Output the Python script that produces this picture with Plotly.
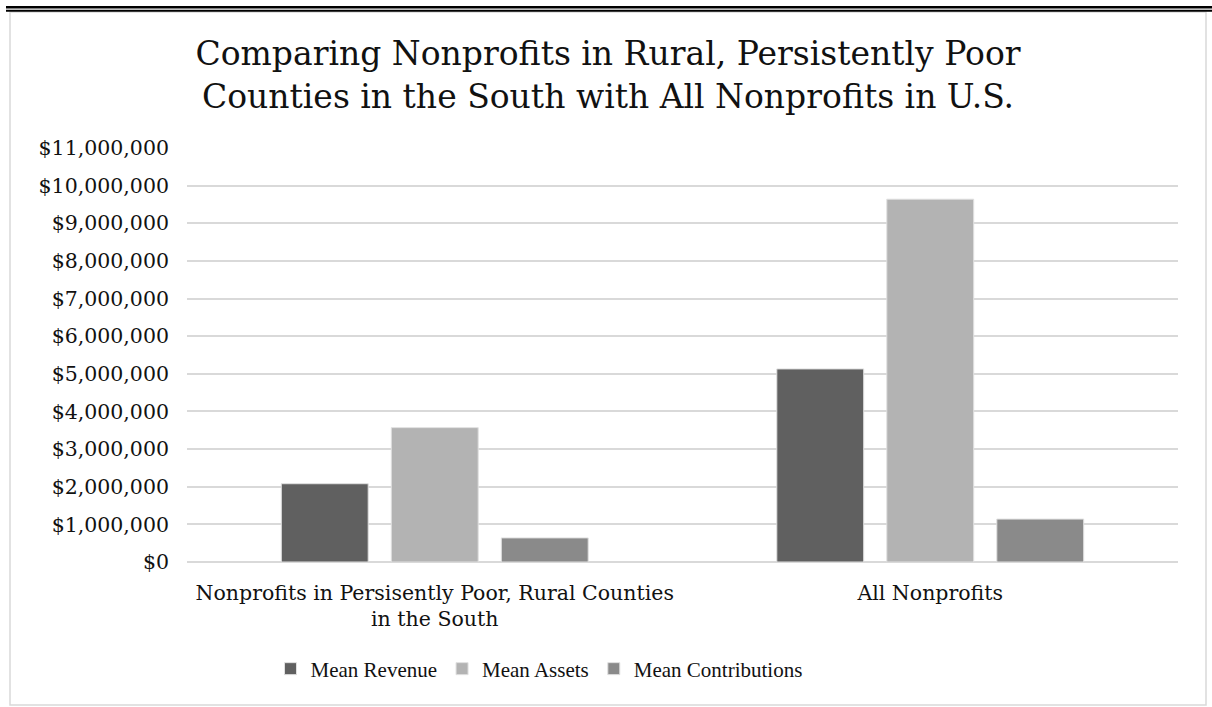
import plotly.graph_objects as go

categories = ["Nonprofits in Persisently Poor, Rural Counties<br>in the South", "All Nonprofits"]
mean_revenue = [2080000, 5130000]
mean_assets = [3570000, 9640000]
mean_contributions = [640000, 1140000]
tick_values = [0, 1000000, 2000000, 3000000, 4000000, 5000000, 6000000, 7000000, 8000000, 9000000, 10000000, 11000000]
tick_labels = ["$" + f"{v:,}" for v in tick_values]

W, H = 1212, 707
L, R, T, B = 187, 1178, 148, 562
FONT = "DejaVu Serif"
LEGFONT = "Liberation Serif"

def px(X):
    return (X - L) / (R - L)

def py(Y):
    return (B - Y) / (B - T)

fig = go.Figure()
series = [("Mean Revenue", mean_revenue, "#606060"),
          ("Mean Assets", mean_assets, "#b3b3b3"),
          ("Mean Contributions", mean_contributions, "#8a8a8a")]
for name, vals, col in series:
    fig.add_trace(go.Bar(x=categories, y=vals, name=name,
                         marker=dict(color=col, line=dict(color="#e0e0e0", width=1))))

fig.update_layout(
    width=W, height=H,
    margin=dict(l=L, r=W - R, t=T, b=H - B, autoexpand=False),
    paper_bgcolor="white", plot_bgcolor="white",
    font=dict(family=FONT, size=20, color="#111111"),
    barmode="group", bargap=0.334, bargroupgap=0.21,
    title=dict(text="Comparing Nonprofits in Rural, Persistently Poor<br>Counties in the South with All Nonprofits in U.S.",
               x=608 / W, xanchor="center", xref="container",
               y=1 - 65 / H, yanchor="middle", yref="container",
               font=dict(family=FONT, size=33, color="#111111")),
    legend=dict(orientation="h", x=px(539), xanchor="center", y=py(669), yanchor="middle",
                font=dict(family=LEGFONT, size=21, color="#111111"), itemwidth=30,
                traceorder="normal"),
    showlegend=True,
)
fig.update_yaxes(range=[0, 11000000], tickmode="array", tickvals=tick_values, ticktext=tick_labels,
                 showgrid=True, gridcolor="#d9d9d9", gridwidth=1.5,
                 zeroline=True, zerolinecolor="#d9d9d9", zerolinewidth=1.5,
                 showline=False, ticks="", ticklabelstandoff=17,
                 tickfont=dict(family=FONT, size=20.5, color="#111111"))
fig.update_xaxes(showgrid=False, showline=False, ticks="", ticklabelstandoff=16,
                 tickfont=dict(family=FONT, size=20.5, color="#111111"))

shapes = [
    dict(type="rect", xref="paper", yref="paper", x0=px(10), x1=px(1206), y0=py(705), y1=py(12),
         line=dict(color="#d9d9d9", width=1.5), fillcolor="rgba(0,0,0,0)", layer="below"),
    dict(type="line", xref="paper", yref="paper", x0=px(6), x1=px(1212), y0=py(7.3), y1=py(7.3),
         line=dict(color="black", width=2.5)),
    dict(type="line", xref="paper", yref="paper", x0=px(6), x1=px(1212), y0=py(10.7), y1=py(10.7),
         line=dict(color="black", width=2)),
]
fig.update_layout(shapes=shapes)

fig.write_html("out.html", config={"displayModeBar": False},
               post_script="document.body.style.margin='0';document.body.style.overflow='hidden';")
